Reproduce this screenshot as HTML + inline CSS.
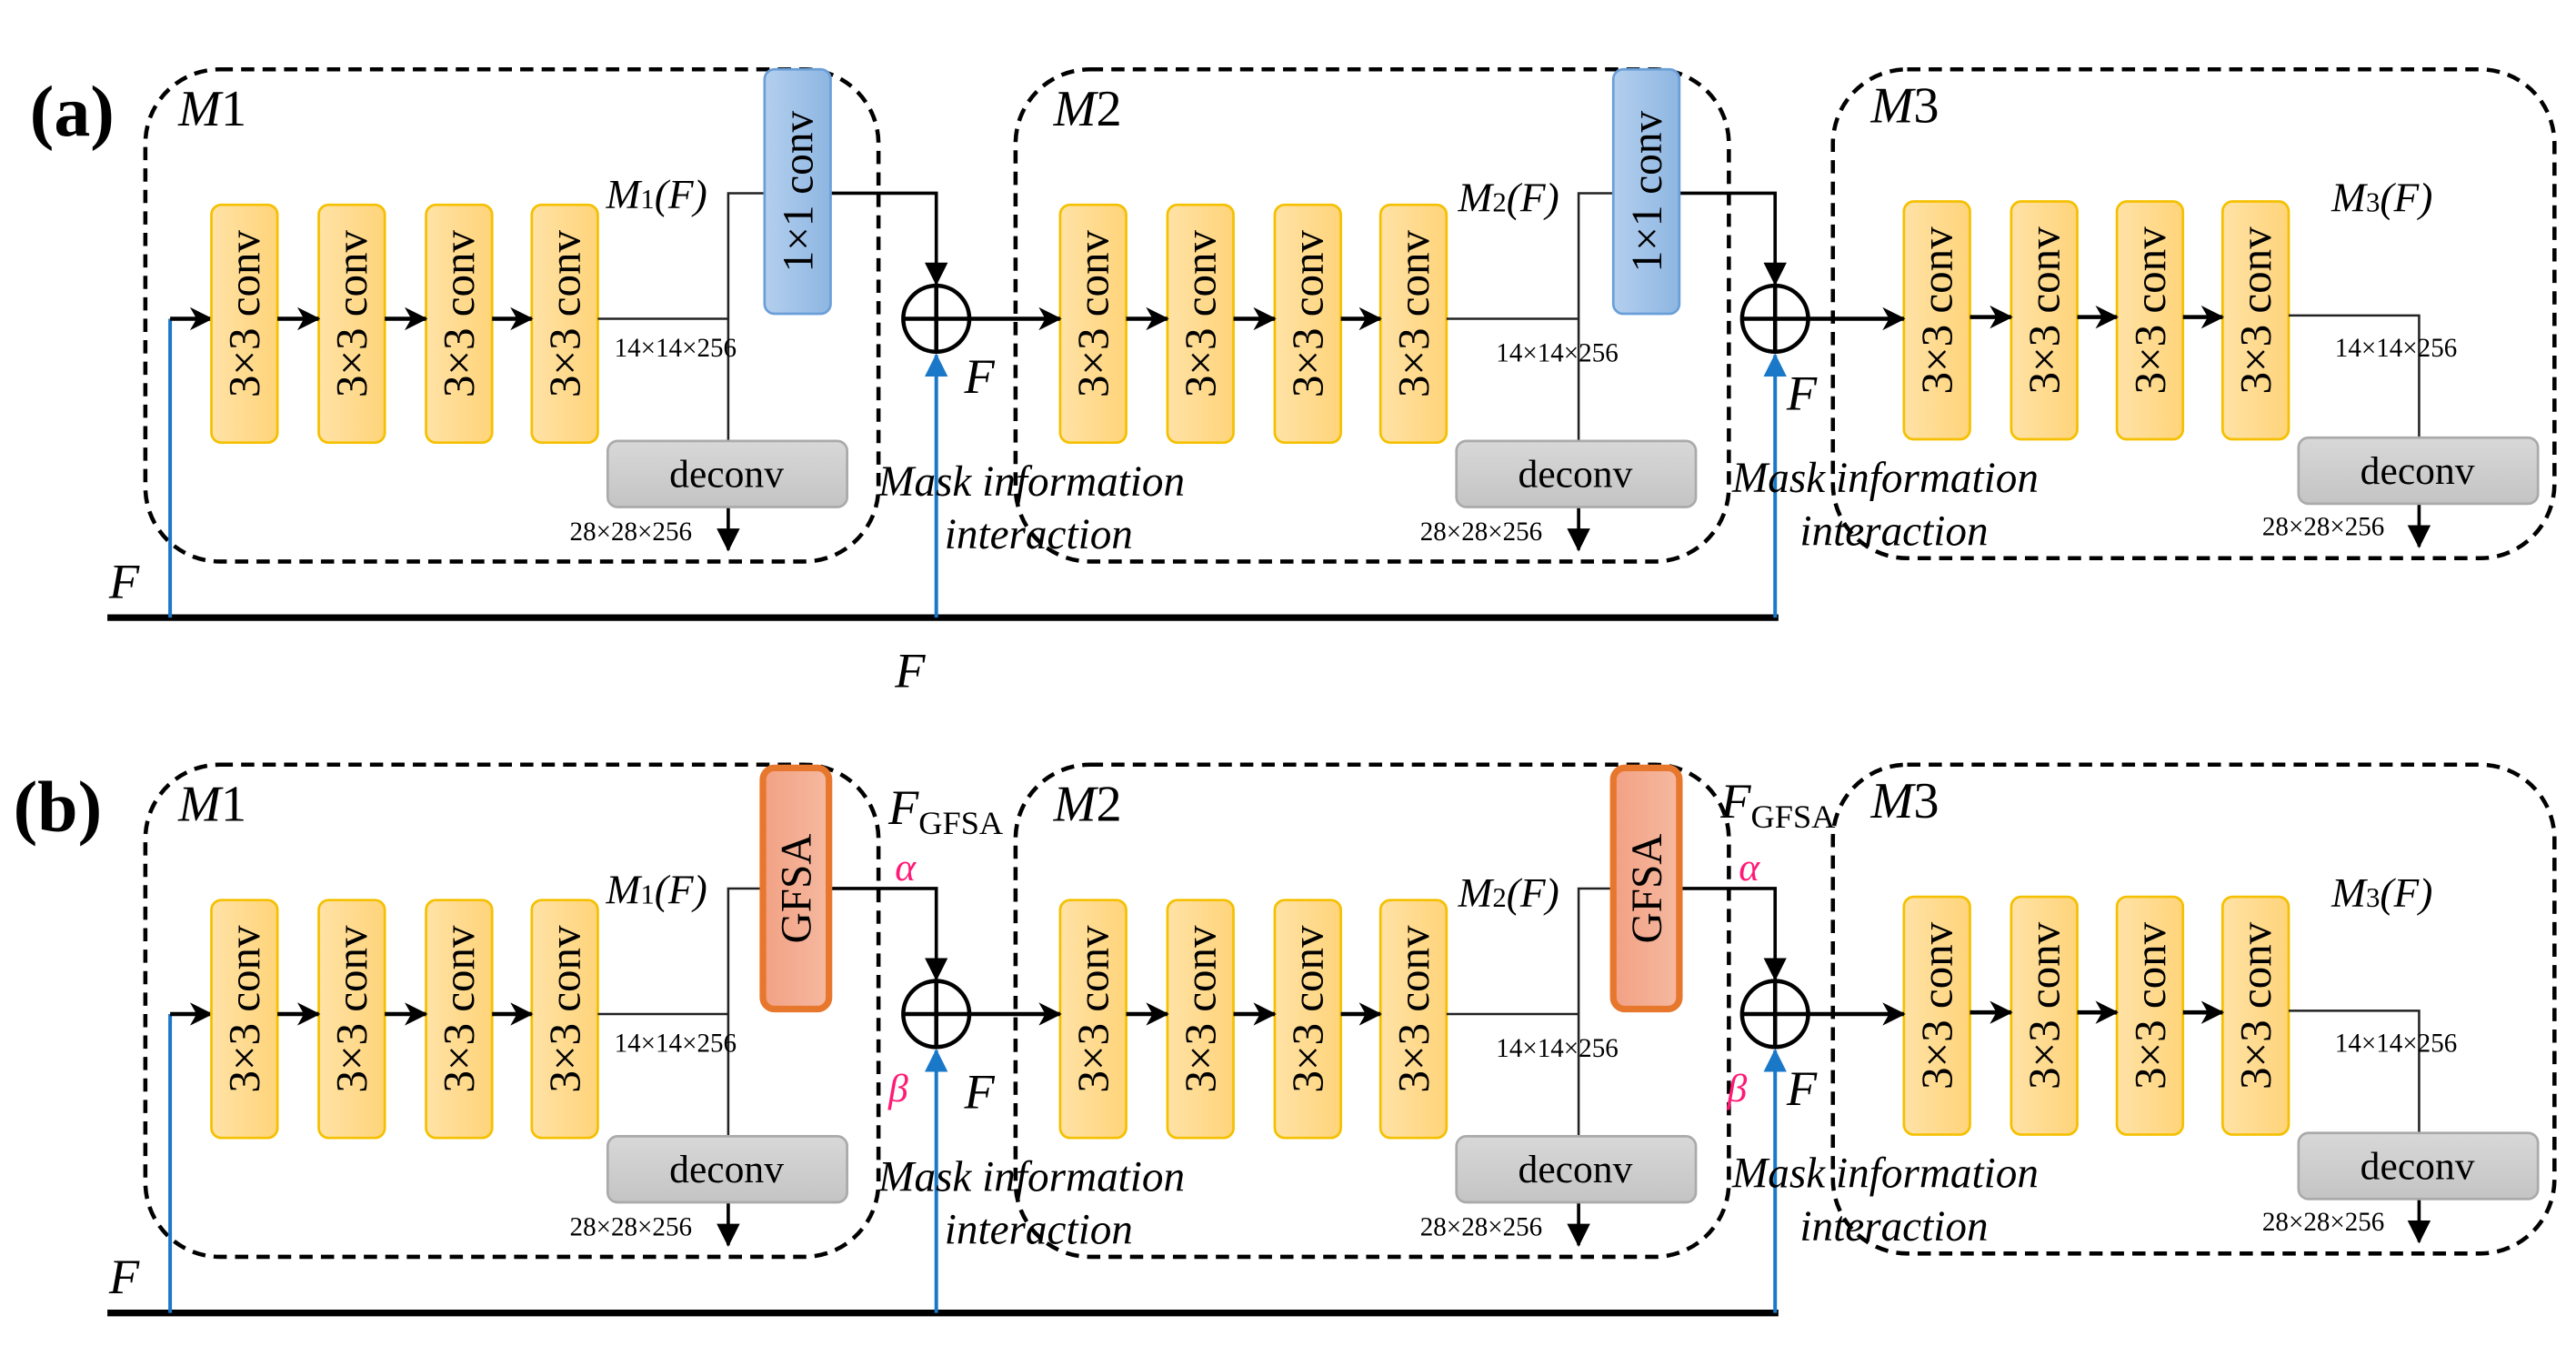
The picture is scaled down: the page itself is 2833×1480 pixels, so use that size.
<!DOCTYPE html>
<html><head><meta charset="utf-8"><style>
html,body{margin:0;padding:0;background:#fff;}
svg{display:block;}
text{font-family:"Liberation Serif",serif;fill:#000;}
.it{font-style:italic;}
</style></head><body>
<svg width="2833" height="1480" viewBox="0 0 1560 815" xmlns="http://www.w3.org/2000/svg">
<defs>
<linearGradient id="gy" x1="0" x2="1" y1="0" y2="0"><stop offset="0" stop-color="#ffe2a6"/><stop offset="1" stop-color="#ffd47a"/></linearGradient>
<linearGradient id="gb" x1="0" x2="1" y1="0" y2="0"><stop offset="0" stop-color="#b4cfee"/><stop offset="1" stop-color="#8db6e2"/></linearGradient>
<linearGradient id="go" x1="0" x2="1" y1="0" y2="0"><stop offset="0" stop-color="#f2a184"/><stop offset="1" stop-color="#f5b9a0"/></linearGradient>
<linearGradient id="gg" x1="0" x2="0" y1="0" y2="1"><stop offset="0" stop-color="#d8d8d8"/><stop offset="1" stop-color="#c4c4c4"/></linearGradient>
<marker id="ah" markerWidth="14" markerHeight="14" refX="13" refY="7" orient="auto" markerUnits="userSpaceOnUse"><path d="M0,0 L14,7 L0,14 L4,7 z" fill="#000"/></marker>
<marker id="ad" markerWidth="14" markerHeight="16" refX="13" refY="7" orient="auto" markerUnits="userSpaceOnUse"><path d="M0,0 L14,7 L0,14 z" fill="#000"/></marker>
<marker id="ab" markerWidth="14" markerHeight="16" refX="13" refY="7" orient="auto" markerUnits="userSpaceOnUse"><path d="M0,0 L14,7 L0,14 z" fill="#1a78c8"/></marker>
</defs>

<!-- ================= PANEL A ================= -->
<g id="pa">
<text x="18" y="82" font-size="44" font-weight="bold">(a)</text>
<rect x="88" y="42" width="444" height="298" rx="45" fill="none" stroke="#000" stroke-width="2.5" stroke-dasharray="8,5"/>
<rect x="615" y="42" width="432" height="298" rx="45" fill="none" stroke="#000" stroke-width="2.5" stroke-dasharray="8,5"/>
<rect x="1110" y="42" width="437" height="296" rx="45" fill="none" stroke="#000" stroke-width="2.5" stroke-dasharray="8,5"/>
<text x="108" y="76" font-size="31" class="it">M<tspan font-style="normal">1</tspan></text>
<text x="638" y="76" font-size="31" class="it">M<tspan font-style="normal">2</tspan></text>
<text x="1133" y="74" font-size="31" class="it">M<tspan font-style="normal">3</tspan></text>

<line x1="65" y1="374" x2="1077" y2="374" stroke="#000" stroke-width="4"/>
<text x="66" y="362" font-size="30" class="it">F</text>
<text x="542" y="416" font-size="30" class="it">F</text>
<polyline points="103,374 103,193" fill="none" stroke="#1a78c8" stroke-width="2.2"/>
<line x1="103" y1="193" x2="128" y2="193" stroke="#000" stroke-width="2.5" marker-end="url(#ah)"/>
<line x1="567" y1="374" x2="567" y2="215" stroke="#1a78c8" stroke-width="2.2" marker-end="url(#ab)"/>
<line x1="1075" y1="374" x2="1075" y2="215" stroke="#1a78c8" stroke-width="2.2" marker-end="url(#ab)"/>

<g stroke="#f5c000" stroke-width="1.5" fill="url(#gy)">
<rect x="128" y="124" width="40" height="144" rx="6"/><rect x="193" y="124" width="40" height="144" rx="6"/><rect x="258" y="124" width="40" height="144" rx="6"/><rect x="322" y="124" width="40" height="144" rx="6"/>
<rect x="642" y="124" width="40" height="144" rx="6"/><rect x="707" y="124" width="40" height="144" rx="6"/><rect x="772" y="124" width="40" height="144" rx="6"/><rect x="836" y="124" width="40" height="144" rx="6"/>
<rect x="1153" y="122" width="40" height="144" rx="6"/><rect x="1218" y="122" width="40" height="144" rx="6"/><rect x="1282" y="122" width="40" height="144" rx="6"/><rect x="1346" y="122" width="40" height="144" rx="6"/>
</g>
<g font-size="27" text-anchor="middle">
<text transform="translate(157,190) rotate(-90)">3×3 conv</text>
<text transform="translate(222,190) rotate(-90)">3×3 conv</text>
<text transform="translate(287,190) rotate(-90)">3×3 conv</text>
<text transform="translate(351,190) rotate(-90)">3×3 conv</text>
<text transform="translate(671,190) rotate(-90)">3×3 conv</text>
<text transform="translate(736,190) rotate(-90)">3×3 conv</text>
<text transform="translate(801,190) rotate(-90)">3×3 conv</text>
<text transform="translate(865,190) rotate(-90)">3×3 conv</text>
<text transform="translate(1182,188) rotate(-90)">3×3 conv</text>
<text transform="translate(1247,188) rotate(-90)">3×3 conv</text>
<text transform="translate(1311,188) rotate(-90)">3×3 conv</text>
<text transform="translate(1375,188) rotate(-90)">3×3 conv</text>
</g>
<g stroke="#000" stroke-width="2.5">
<line x1="168" y1="193" x2="193" y2="193" marker-end="url(#ah)"/><line x1="233" y1="193" x2="258" y2="193" marker-end="url(#ah)"/><line x1="298" y1="193" x2="322" y2="193" marker-end="url(#ah)"/>
<line x1="682" y1="193" x2="707" y2="193" marker-end="url(#ah)"/><line x1="747" y1="193" x2="772" y2="193" marker-end="url(#ah)"/><line x1="812" y1="193" x2="836" y2="193" marker-end="url(#ah)"/>
<line x1="1193" y1="192" x2="1218" y2="192" marker-end="url(#ah)"/><line x1="1258" y1="192" x2="1282" y2="192" marker-end="url(#ah)"/><line x1="1322" y1="192" x2="1346" y2="192" marker-end="url(#ah)"/>
<line x1="587" y1="193" x2="642" y2="193" marker-end="url(#ah)"/>
<line x1="1095" y1="193" x2="1153" y2="193" marker-end="url(#ah)"/>
</g>
<g stroke="#222" stroke-width="1.4" fill="none">
<polyline points="362,193 441,193"/><polyline points="441,267 441,117 463,117"/>
<polyline points="876,193 956,193"/><polyline points="956,267 956,117 977,117"/>
<polyline points="1386,191 1465,191 1465,265"/>
</g>
<g stroke="#000" stroke-width="2" fill="none">
<polyline points="503,117 567,117 567,172" marker-end="url(#ad)"/>
<polyline points="1017,117 1075,117 1075,172" marker-end="url(#ad)"/>
<line x1="441" y1="307" x2="441" y2="333" marker-end="url(#ad)"/>
<line x1="956" y1="307" x2="956" y2="333" marker-end="url(#ad)"/>
<line x1="1465" y1="305" x2="1465" y2="331" marker-end="url(#ad)"/>
</g>
<g stroke="#000" stroke-width="2.5" fill="none">
<circle cx="567" cy="193" r="20"/><line x1="547" y1="193" x2="587" y2="193"/><line x1="567" y1="173" x2="567" y2="213"/>
<circle cx="1075" cy="193" r="20"/><line x1="1055" y1="193" x2="1095" y2="193"/><line x1="1075" y1="173" x2="1075" y2="213"/>
</g>
<rect x="463" y="42" width="40" height="148" rx="6" fill="url(#gb)" stroke="#6a9fd8" stroke-width="1.5"/>
<rect x="977" y="42" width="40" height="148" rx="6" fill="url(#gb)" stroke="#6a9fd8" stroke-width="1.5"/>
<text transform="translate(492,116) rotate(-90)" font-size="26" text-anchor="middle">1×1 conv</text>
<text transform="translate(1006,116) rotate(-90)" font-size="26" text-anchor="middle">1×1 conv</text>
<rect x="368" y="267" width="145" height="40" rx="6" fill="url(#gg)" stroke="#aaa" stroke-width="1.5"/>
<rect x="882" y="267" width="145" height="40" rx="6" fill="url(#gg)" stroke="#aaa" stroke-width="1.5"/>
<rect x="1392" y="265" width="145" height="40" rx="6" fill="url(#gg)" stroke="#aaa" stroke-width="1.5"/>
<g font-size="24" text-anchor="middle"><text x="440" y="295">deconv</text><text x="954" y="295">deconv</text><text x="1464" y="293">deconv</text></g>
<g font-size="16"><text x="372" y="216">14×14×256</text><text x="906" y="219">14×14×256</text><text x="1414" y="216">14×14×256</text>
<text x="345" y="327">28×28×256</text><text x="860" y="327">28×28×256</text><text x="1370" y="324">28×28×256</text></g>
<g font-size="25"><text x="367" y="126" class="it">M<tspan font-style="normal" font-size="17">1</tspan>(F)</text>
<text x="883" y="128" class="it">M<tspan font-style="normal" font-size="17">2</tspan>(F)</text>
<text x="1412" y="128" class="it">M<tspan font-style="normal" font-size="17">3</tspan>(F)</text></g>
<text x="584" y="238" font-size="30" class="it">F</text>
<text x="1082" y="248" font-size="30" class="it">F</text>
<g font-size="26" class="it"><text x="532" y="300">Mask information</text><text x="572" y="332">interaction</text>
<text x="1049" y="298">Mask information</text><text x="1090" y="330">interaction</text></g>
</g>

<!-- ================= PANEL B ================= -->
<g transform="translate(0,421)">
<text x="8" y="82" font-size="44" font-weight="bold">(b)</text>
<rect x="88" y="42" width="444" height="298" rx="45" fill="none" stroke="#000" stroke-width="2.5" stroke-dasharray="8,5"/>
<rect x="615" y="42" width="432" height="298" rx="45" fill="none" stroke="#000" stroke-width="2.5" stroke-dasharray="8,5"/>
<rect x="1110" y="42" width="437" height="296" rx="45" fill="none" stroke="#000" stroke-width="2.5" stroke-dasharray="8,5"/>
<text x="108" y="76" font-size="31" class="it">M<tspan font-style="normal">1</tspan></text>
<text x="638" y="76" font-size="31" class="it">M<tspan font-style="normal">2</tspan></text>
<text x="1133" y="74" font-size="31" class="it">M<tspan font-style="normal">3</tspan></text>

<line x1="65" y1="374" x2="1077" y2="374" stroke="#000" stroke-width="4"/>
<text x="66" y="362" font-size="30" class="it">F</text>
<polyline points="103,374 103,193" fill="none" stroke="#1a78c8" stroke-width="2.2"/>
<line x1="103" y1="193" x2="128" y2="193" stroke="#000" stroke-width="2.5" marker-end="url(#ah)"/>
<line x1="567" y1="374" x2="567" y2="215" stroke="#1a78c8" stroke-width="2.2" marker-end="url(#ab)"/>
<line x1="1075" y1="374" x2="1075" y2="215" stroke="#1a78c8" stroke-width="2.2" marker-end="url(#ab)"/>

<g stroke="#f5c000" stroke-width="1.5" fill="url(#gy)">
<rect x="128" y="124" width="40" height="144" rx="6"/><rect x="193" y="124" width="40" height="144" rx="6"/><rect x="258" y="124" width="40" height="144" rx="6"/><rect x="322" y="124" width="40" height="144" rx="6"/>
<rect x="642" y="124" width="40" height="144" rx="6"/><rect x="707" y="124" width="40" height="144" rx="6"/><rect x="772" y="124" width="40" height="144" rx="6"/><rect x="836" y="124" width="40" height="144" rx="6"/>
<rect x="1153" y="122" width="40" height="144" rx="6"/><rect x="1218" y="122" width="40" height="144" rx="6"/><rect x="1282" y="122" width="40" height="144" rx="6"/><rect x="1346" y="122" width="40" height="144" rx="6"/>
</g>
<g font-size="27" text-anchor="middle">
<text transform="translate(157,190) rotate(-90)">3×3 conv</text>
<text transform="translate(222,190) rotate(-90)">3×3 conv</text>
<text transform="translate(287,190) rotate(-90)">3×3 conv</text>
<text transform="translate(351,190) rotate(-90)">3×3 conv</text>
<text transform="translate(671,190) rotate(-90)">3×3 conv</text>
<text transform="translate(736,190) rotate(-90)">3×3 conv</text>
<text transform="translate(801,190) rotate(-90)">3×3 conv</text>
<text transform="translate(865,190) rotate(-90)">3×3 conv</text>
<text transform="translate(1182,188) rotate(-90)">3×3 conv</text>
<text transform="translate(1247,188) rotate(-90)">3×3 conv</text>
<text transform="translate(1311,188) rotate(-90)">3×3 conv</text>
<text transform="translate(1375,188) rotate(-90)">3×3 conv</text>
</g>
<g stroke="#000" stroke-width="2.5">
<line x1="168" y1="193" x2="193" y2="193" marker-end="url(#ah)"/><line x1="233" y1="193" x2="258" y2="193" marker-end="url(#ah)"/><line x1="298" y1="193" x2="322" y2="193" marker-end="url(#ah)"/>
<line x1="682" y1="193" x2="707" y2="193" marker-end="url(#ah)"/><line x1="747" y1="193" x2="772" y2="193" marker-end="url(#ah)"/><line x1="812" y1="193" x2="836" y2="193" marker-end="url(#ah)"/>
<line x1="1193" y1="192" x2="1218" y2="192" marker-end="url(#ah)"/><line x1="1258" y1="192" x2="1282" y2="192" marker-end="url(#ah)"/><line x1="1322" y1="192" x2="1346" y2="192" marker-end="url(#ah)"/>
<line x1="587" y1="193" x2="642" y2="193" marker-end="url(#ah)"/>
<line x1="1095" y1="193" x2="1153" y2="193" marker-end="url(#ah)"/>
</g>
<g stroke="#222" stroke-width="1.4" fill="none">
<polyline points="362,193 441,193"/><polyline points="441,267 441,117 462,117"/>
<polyline points="876,193 956,193"/><polyline points="956,267 956,117 976,117"/>
<polyline points="1386,191 1465,191 1465,265"/>
</g>
<g stroke="#000" stroke-width="2" fill="none">
<polyline points="503,117 567,117 567,172" marker-end="url(#ad)"/>
<polyline points="1018,117 1075,117 1075,172" marker-end="url(#ad)"/>
<line x1="441" y1="307" x2="441" y2="333" marker-end="url(#ad)"/>
<line x1="956" y1="307" x2="956" y2="333" marker-end="url(#ad)"/>
<line x1="1465" y1="305" x2="1465" y2="331" marker-end="url(#ad)"/>
</g>
<g stroke="#000" stroke-width="2.5" fill="none">
<circle cx="567" cy="193" r="20"/><line x1="547" y1="193" x2="587" y2="193"/><line x1="567" y1="173" x2="567" y2="213"/>
<circle cx="1075" cy="193" r="20"/><line x1="1055" y1="193" x2="1095" y2="193"/><line x1="1075" y1="173" x2="1075" y2="213"/>
</g>
<rect x="462" y="44" width="40" height="146" rx="7" fill="url(#go)" stroke="#e8772e" stroke-width="4"/>
<rect x="977" y="44" width="40" height="146" rx="7" fill="url(#go)" stroke="#e8772e" stroke-width="4"/>
<text transform="translate(491,117) rotate(-90)" font-size="26" text-anchor="middle">GFSA</text>
<text transform="translate(1006,117) rotate(-90)" font-size="26" text-anchor="middle">GFSA</text>
<rect x="368" y="267" width="145" height="40" rx="6" fill="url(#gg)" stroke="#aaa" stroke-width="1.5"/>
<rect x="882" y="267" width="145" height="40" rx="6" fill="url(#gg)" stroke="#aaa" stroke-width="1.5"/>
<rect x="1392" y="265" width="145" height="40" rx="6" fill="url(#gg)" stroke="#aaa" stroke-width="1.5"/>
<g font-size="24" text-anchor="middle"><text x="440" y="295">deconv</text><text x="954" y="295">deconv</text><text x="1464" y="293">deconv</text></g>
<g font-size="16"><text x="372" y="216">14×14×256</text><text x="906" y="219">14×14×256</text><text x="1414" y="216">14×14×256</text>
<text x="345" y="327">28×28×256</text><text x="860" y="327">28×28×256</text><text x="1370" y="324">28×28×256</text></g>
<g font-size="25"><text x="367" y="126" class="it">M<tspan font-style="normal" font-size="17">1</tspan>(F)</text>
<text x="883" y="128" class="it">M<tspan font-style="normal" font-size="17">2</tspan>(F)</text>
<text x="1412" y="128" class="it">M<tspan font-style="normal" font-size="17">3</tspan>(F)</text></g>
<text x="584" y="250" font-size="30" class="it">F</text>
<text x="1082" y="248" font-size="30" class="it">F</text>
<text x="538" y="78" font-size="30" class="it">F<tspan font-style="normal" font-size="20" dy="6">GFSA</tspan></text>
<text x="1042" y="74" font-size="30" class="it">F<tspan font-style="normal" font-size="20" dy="6">GFSA</tspan></text>
<g font-size="24" class="it">
<text x="542" y="112" style="fill:#ff1a75">α</text><text x="1053" y="112" style="fill:#ff1a75">α</text>
<text x="538" y="246" style="fill:#ff1a75">β</text><text x="1046" y="246" style="fill:#ff1a75">β</text>
</g>
<g font-size="26" class="it"><text x="532" y="300">Mask information</text><text x="572" y="332">interaction</text>
<text x="1049" y="298">Mask information</text><text x="1090" y="330">interaction</text></g>
</g>
</svg>
</body></html>
